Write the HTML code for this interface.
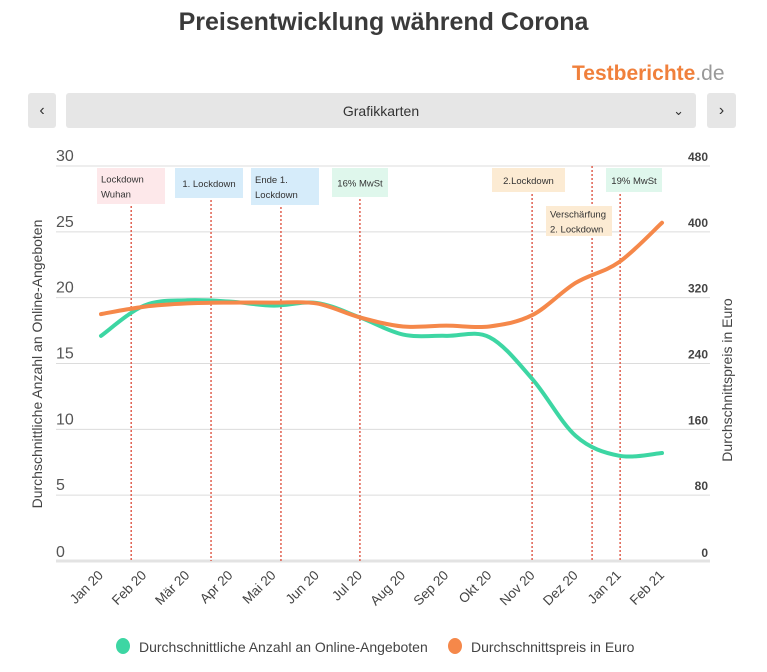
<!DOCTYPE html>
<html><head><meta charset="utf-8">
<style>
body{margin:0;background:#fff;font-family:"Liberation Sans",sans-serif;}
#wrap{position:relative;width:767px;height:672px;overflow:hidden;}
.btn{position:absolute;top:93px;height:35px;background:#e6e6e6;border-radius:3px;color:#333;font-size:16px;display:flex;align-items:center;justify-content:center;}
</style></head><body>
<div id="wrap">
<div style="position:absolute;left:0;width:767px;top:8px;text-align:center;font-size:25px;font-weight:bold;color:#3a3a3a;">Preisentwicklung während Corona</div>
<div style="position:absolute;left:572px;top:62px;font-size:21px;font-weight:bold;color:#f0803c;">Testberichte<span style="color:#999;font-weight:normal">.de</span></div>
<div class="btn" style="left:28px;width:28px;">&#8249;</div>
<div class="btn" style="left:66px;width:630px;font-size:14px;">Grafikkarten<span style="position:absolute;right:12px;font-size:13px;">&#8964;</span></div>
<div class="btn" style="left:707px;width:29px;">&#8250;</div>
<svg id="chart" width="767" height="672" style="position:absolute;left:0;top:0"></svg>
</div>
<script>
const categories=["Jan 20","Feb 20","Mär 20","Apr 20","Mai 20","Jun 20","Jul 20","Aug 20","Sep 20","Okt 20","Nov 20","Dez 20","Jan 21","Feb 21"];
const offers=[17.1,19.4,19.8,19.7,19.4,19.6,18.5,17.2,17.1,17.0,13.8,9.5,8.0,8.2];
const prices=[300,309,313,314,314,313,296,285,286,285,299,338,363,411];
const leftTicks=[0,5,10,15,20,25,30];
const rightTicks=[0,80,160,240,320,400,480];
const eventsX=[0.7,2.55,4.17,6.0,9.99,11.38,12.03];
const eventLabels=[["Lockdown","Wuhan"],["1. Lockdown"],["Ende 1.","Lockdown"],["16% MwSt"],["2.Lockdown"],["Verschärfung","2. Lockdown"],["19% MwSt"]];
const NS="http://www.w3.org/2000/svg";
const svg=document.getElementById('chart');
const x0=101,dx=(662-101)/13,yb=561,yt=166,pL=56,pR=710;
const xs=i=>x0+i*dx;
const yL=v=>yb-(v/30)*(yb-yt);
const yR=v=>yb-(v/480)*(yb-yt);
function mk(t,a){const e=document.createElementNS(NS,t);for(const k in a)e.setAttribute(k,a[k]);svg.appendChild(e);return e;}
leftTicks.forEach((v,i)=>{
 const g=mk('line',{x1:pL,x2:pR,y1:yL(v),y2:yL(v),stroke:v==0?'#e3e3e3':'#dcdcdc','stroke-width':v==0?3:1});
 
 const t=mk('text',{x:56,y:yL(v)-(v==0?4:5),'font-size':16,fill:'#555'});t.textContent=v;
 
});
rightTicks.forEach(v=>{
 const t=mk('text',{x:708,y:yR(v)-(v==0?4:5),'font-size':12,fill:'#444','text-anchor':'end','font-weight':'bold'});t.textContent=v;
 
});
const boxes=[[97,168,68,36,'#fde8ea'],[175,168,68,30,'#d6ecfa'],[251,168,68,37,'#d6ecfa'],[332,168,56,29,'#dff7ec'],[492,168,73,24,'#fcebd3'],[546,206,66,30,'#fcebd3'],[606,168,56,24,'#dff7ec']];
eventsX.forEach((e,i)=>{
 const x=xs(e);const b=boxes[i];
 const l=mk('line',{x1:x,x2:x,y1:(i==5?166:b[1]+b[3]+2),y2:yb,stroke:'#e06050','stroke-width':1.5,'stroke-dasharray':'2,2'});
 
 const r=mk('rect',{x:b[0],y:b[1],width:b[2],height:b[3],fill:b[4]});
 
 eventLabels[i].forEach((s,j)=>{
  const n=eventLabels[i].length;
  const t=mk('text',{x:b[0]+(n>1?4:b[2]/2),y:b[1]+b[3]/2+4+(n>1?(j-0.5)*15:0),'font-size':9.5,fill:'#333','text-anchor':n>1?'start':'middle'});t.textContent=s;
  
 });
});
function path(vals,yf){
 const p=vals.map((v,i)=>[xs(i),yf(v)]);
 let d='M'+p[0][0]+','+p[0][1];
 for(let i=0;i<p.length-1;i++){
  const a=p[i-1]||p[i],b=p[i],c=p[i+1],e=p[i+2]||c;
  d+=' C'+(b[0]+(c[0]-a[0])/6)+','+(b[1]+(c[1]-a[1])/6)+' '+(c[0]-(e[0]-b[0])/6)+','+(c[1]-(e[1]-b[1])/6)+' '+c[0]+','+c[1];
 }
 return d;
}
const g1=mk('path',{d:path(offers,yL),fill:'none',stroke:'#3dd6a3','stroke-width':4,'stroke-linecap':'round'});

const g2=mk('path',{d:path(prices,yR),fill:'none',stroke:'#f5884a','stroke-width':4,'stroke-linecap':'round'});

categories.forEach((c,i)=>{
 const x=xs(i)+3,y=576;
 const t=mk('text',{x:x,y:y,'font-size':13.5,fill:'#444','text-anchor':'end',transform:`rotate(-45 ${x} ${y})`});t.textContent=c;
 
});
let t=mk('text',{x:42,y:364,'font-size':14,fill:'#444','text-anchor':'middle',transform:'rotate(-90 42 364)'});t.textContent='Durchschnittliche Anzahl an Online-Angeboten';

t=mk('text',{x:732,y:380,'font-size':14,fill:'#444','text-anchor':'middle',transform:'rotate(-90 732 380)'});t.textContent='Durchschnittspreis in Euro';

let c=mk('ellipse',{cx:123,cy:646,rx:7,ry:8,fill:'#3dd6a3'});
t=mk('text',{x:139,y:652,'font-size':14,fill:'#444'});t.textContent='Durchschnittliche Anzahl an Online-Angeboten';

c=mk('ellipse',{cx:455,cy:646,rx:7,ry:8,fill:'#f5884a'});
t=mk('text',{x:471,y:652,'font-size':14,fill:'#444'});t.textContent='Durchschnittspreis in Euro';

</script>
</body></html>
